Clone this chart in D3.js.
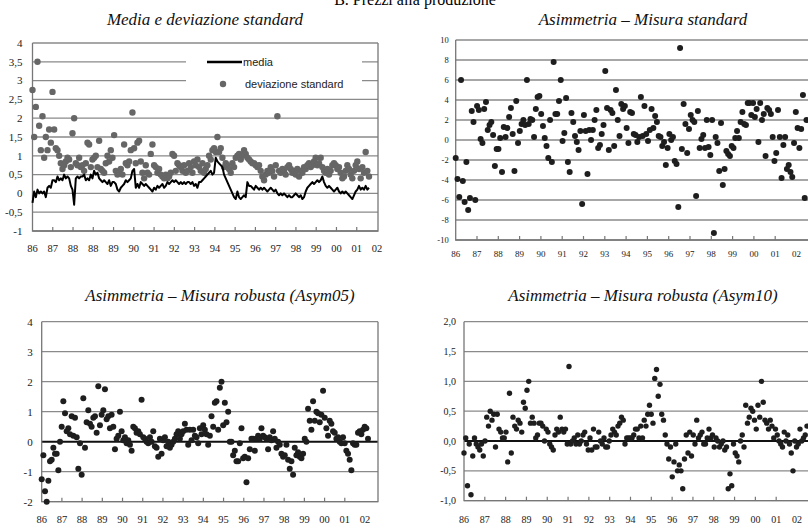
<!DOCTYPE html>
<html>
<head>
<meta charset="utf-8">
<script src="https://cdn.jsdelivr.net/npm/d3@7"></script>
<style>
body { margin: 0; background: #fff; }
svg { display: block; }
</style>
</head>
<body>
<svg id="chart" width="808" height="529"></svg>
<script>
// tick labels
const labelsMedia = ['86','87','88','88','89','90','91','92','93','94','95','96','97','98','99','00','01','02'];
const labelsYears = ['86','87','88','89','90','91','92','93','94','95','96','97','98','99','00','01','02'];
const ticksMedia = [-1, -0.5, 0, 0.5, 1, 1.5, 2, 2.5, 3, 3.5, 4];
const ticksStd = [-10, -8, -6, -4, -2, 0, 2, 4, 6, 8, 10];
const ticks05 = [-2, -1, 0, 1, 2, 3, 4];
const ticks10 = [-1, -0.5, 0, 0.5, 1, 1.5, 2];

// monthly series
const media = [
  -0.25,0.05,-0.1,0.1,0,0.05,0,0.05,-0.1,0.15,
  0.2,0.15,0.35,0.35,0.3,0.45,0.35,0.4,0.35,0.5,
  0.4,0.45,0.4,0.2,0.1,-0.3,0.4,0.45,0.4,0.45,
  0.45,0.5,0.35,0.4,0.35,0.5,0.4,0.6,0.5,0.55,
  0.4,0.35,0.3,0.35,0.3,0.25,0.35,0.2,0.3,0.3,
  0.25,0.1,0.05,0.15,0.2,0.25,0.35,0.3,0.35,0.4,
  0.6,0.65,0.15,0.25,0.15,0.3,0.25,0.2,0.25,0.2,
  0.15,0.1,0.05,0.15,0.1,0.2,0.15,0.2,0.25,0.15,
  0.2,0.3,0.25,0.3,0.35,0.3,0.35,0.3,0.25,
  0.3,0.25,0.3,0.25,0.3,0.3,0.25,0.3,0.2,0.25,
  0.15,0.3,0.3,0.35,0.4,0.45,0.5,0.55,0.6,0.5,
  0.55,0.95,0.85,0.8,0.75,0.7,0.5,0.4,0.3,0.2,
  0.1,0,-0.1,-0.15,0.05,-0.1,-0.15,-0.1,-0.05,-0.1,
  0.3,0.2,0.2,0.15,0.1,0.2,0.15,0.1,0.15,0.1,
  0.15,0.1,0.05,0.1,0.15,0.1,0.05,0.1,0,-0.05,
  0,-0.05,0,-0.05,-0.1,-0.05,-0.1,-0.1,-0.05,0,
  -0.05,-0.1,-0.05,-0.15,-0.1,0.05,0.15,0.2,0.25,0.3,
  0.25,0.3,0.35,0.3,0.35,0.45,0.3,0.2,0.15,0.2,
  0.15,0.1,0.05,0.1,0.15,0.05,0,0.05,0,0.05,
  0,-0.05,-0.1,-0.15,-0.05,0.05,0.1,0.2,0.1,0.15,
  0.1,0.2,0.1,0.15
];
const devStd = [
  2.75,1.5,2.3,3.5,1.8,1.15,2.05,0.95,1.5,1.15,
  1.7,1.35,2.7,1.7,1.2,1.15,1.0,0.8,0.65,0.75,
  0.85,0.95,0.9,0.7,1.6,2.0,0.8,0.75,0.95,0.7,
  0.75,0.6,0.8,1.35,1.3,0.7,0.9,0.95,1.0,0.7,
  1.4,0.65,0.6,0.55,0.8,1.0,0.85,1.15,0.95,1.55,
  0.6,0.5,0.55,0.65,0.5,1.3,0.8,0.75,0.85,1.15,
  2.15,1.2,0.8,1.35,1.4,0.85,0.55,0.4,0.75,0.55,
  0.5,1.05,1.3,0.75,0.7,0.55,0.65,0.5,0.45,0.4,
  0.5,0.4,0.45,0.55,1.05,1.0,0.6,0.8,0.75,
  0.7,0.6,0.75,0.55,0.6,0.8,0.7,0.55,0.85,0.75,
  0.9,0.7,0.6,0.8,0.55,0.65,0.75,1.0,0.9,1.15,
  1.2,1.1,1.5,1.1,1.2,0.95,0.7,0.8,0.75,0.65,
  0.55,0.8,0.7,0.95,1.0,1.05,0.9,1.0,1.15,1.05,
  0.95,0.9,0.85,0.8,0.8,0.75,0.7,0.75,0.6,0.45,
  0.35,0.5,0.6,0.55,0.7,0.6,0.45,0.75,2.05,0.6,
  0.55,0.65,0.6,0.5,0.7,0.75,0.65,0.55,0.6,0.5,
  0.65,0.45,0.6,0.55,0.7,0.65,0.75,0.8,0.7,0.75,
  0.85,0.95,0.75,0.8,0.95,0.7,0.6,0.55,0.65,0.5,
  0.6,0.75,0.8,0.75,0.65,0.7,0.55,0.4,0.45,0.6,
  0.75,0.65,0.5,0.4,0.6,0.75,0.85,0.65,0.4,0.7,
  0.55,1.1,0.6,0.45
];
const asymStd = [
  -1.8,-3.9,-5.7,6.0,-4.1,-6.2,-2.2,-7.0,-5.8,2.9,
  1.8,-6.0,3.4,3.0,0.1,-0.3,3.1,3.8,1.0,1.5,
  1.8,0.5,-2.6,-0.9,-0.9,0.2,-3.2,1.3,0.3,1.2,
  2.3,3.2,0.6,-3.1,3.9,-0.3,0.9,1.6,2.0,1.5,
  6.0,1.6,2.1,2.0,0.3,3.1,4.3,4.4,2.6,1.4,
  0.2,-0.6,-1.8,2.0,-2.2,7.8,2.6,2.6,3.9,6.0,
  -0.1,0.7,4.2,-2.2,-3.2,2.7,1.8,0.4,-0.2,-1.0,
  0.9,-6.4,2.5,0.9,-3.4,1.0,0.0,1.0,2.0,3.0,
  -0.8,-0.5,0.6,1.5,6.9,3.2,-1.0,3.0,2.7,-0.6,
  5.0,2.0,0.4,3.6,3.1,3.4,1.2,-0.3,2.8,2.7,
  0.6,0.5,-0.2,0.3,4.3,0.4,3.4,0.6,-0.1,1.0,
  3.1,1.2,2.4,1.8,0.4,0.3,-0.6,-0.2,-2.5,-0.8,
  0.6,0.0,0.3,-2.1,-2.4,-6.7,9.2,-0.9,3.6,1.6,
  -1.3,1.1,2.5,2.0,1.8,-5.6,2.9,-0.8,0.1,0.5,
  -0.8,2.0,-0.7,-1.5,2.0,-9.3,0.3,-0.3,-3.1,1.7,
  -4.5,-2.9,-1.1,-1.4,-1.6,-0.6,-0.8,0.2,0.9,0.2,
  1.8,2.8,1.6,1.5,3.7,3.7,2.5,3.7,2.3,3.1,
  -0.2,3.7,2.0,2.6,-1.6,3.2,3.0,2.6,0.3,-2.1,
  -1.3,3.0,0.3,-3.8,-0.5,0.3,-2.9,-2.5,-3.2,-3.7,
  -0.3,2.8,1.2,-0.8,1.1,4.5,-5.8,2.0
];
const asym05 = [
  -1.25,-0.45,-1.65,-2.0,-1.3,-0.65,-0.6,-0.2,-0.4,-0.4,
  -0.95,0.0,0.5,1.35,0.95,0.35,0.45,0.25,0.85,0.2,
  0.8,0.15,-0.9,-0.05,-1.1,1.45,-0.2,0.65,1.05,0.6,
  0.5,0.8,0.85,0.3,1.85,0.55,0.9,1.05,1.75,0.75,
  0.85,0.45,0.9,0.5,-0.25,0.1,0.2,1.0,0.35,0.05,
  0.15,-0.05,0.05,-0.1,-0.3,0.5,0.45,0.3,0.35,0.25,
  1.4,0.15,0.1,0.0,-0.05,0.15,0.0,0.35,-0.15,-0.2,
  -0.5,0.1,-0.4,0.05,0.15,-0.15,0.0,-0.2,-0.1,0.0,
  0.1,0.25,0.35,0.1,0.25,0.35,0.6,0.4,-0.1,0.4,
  0.05,0.4,0.2,0.15,-0.05,0.45,0.25,0.55,0.4,0.25,
  -0.1,0.2,0.85,0.5,1.3,1.35,0.4,1.8,2.0,0.55,
  1.3,0.65,1.0,0.0,0.0,-0.45,-0.3,-0.65,-0.65,-0.05,
  0.45,-0.55,-0.5,-1.35,-0.55,-0.25,0.1,0.1,-0.3,0.1,
  0.2,0.1,0.45,0.2,0.15,0.1,-0.25,0.15,0.05,0.35,
  0.1,-0.2,0.0,-0.1,-0.4,-0.5,-0.45,-0.1,-0.6,-0.9,
  -0.65,-1.1,-0.2,-0.45,-0.35,-0.5,-0.55,-0.4,0.1,0.0,
  1.1,0.7,0.4,1.35,0.7,1.0,0.95,0.65,0.9,1.7,
  0.8,0.45,0.2,0.7,0.6,0.35,0.3,0.1,0.15,0.0,
  -0.05,0.15,-0.05,-0.3,-0.4,-0.6,-0.95,-0.05,-0.1,-0.1,
  0.3,0.35,0.25,0.4,0.5,0.45,0.1
];
const asym10 = [
  -0.2,0.05,-0.75,-0.05,-0.9,-0.25,0.05,-0.05,-0.1,-0.15,
  -0.05,-0.25,0.0,0.4,0.25,0.5,0.35,0.45,-0.1,0.45,
  0.2,0.15,0.05,0.05,0.15,-0.35,0.8,-0.2,0.4,0.25,
  0.2,0.35,0.3,0.15,0.65,0.55,0.85,1.0,0.3,0.4,
  0.3,0.05,0.1,0.3,0.3,0.25,0.0,0.2,0.15,-0.05,
  -0.1,-0.15,0.1,0.2,0.15,0.4,0.2,0.15,0.2,-0.05,
  1.25,-0.05,0.0,0.05,-0.05,0.1,-0.05,0.0,0.1,0.15,
  -0.05,-0.15,0.05,-0.15,0.2,-0.1,-0.1,0.15,0.0,-0.05,
  0.05,-0.1,-0.1,0.0,0.1,0.2,0.15,0.1,0.25,0.3,
  0.4,0.35,-0.05,0.05,0.05,0.05,0.05,0.1,0.2,0.2,
  0.05,0.25,0.05,0.35,0.25,0.45,0.6,0.45,0.3,1.05,
  1.2,0.75,0.95,0.45,0.35,0.1,-0.05,-0.3,-0.1,-0.6,
  -0.35,-0.05,-0.5,-0.4,-0.5,-0.8,-0.3,0.1,-0.2,0.15,
  -0.25,0.1,-0.05,0.35,0.05,0.1,0.15,-0.05,-0.05,0.05,
  0.2,0.05,0.1,-0.1,0.05,0.0,-0.1,-0.05,0.0,-0.15,
  -0.1,-0.8,-0.55,-0.75,-0.05,-0.2,-0.25,-0.35,0.0,0.1,
  -0.1,0.6,0.3,0.4,0.55,0.5,0.35,0.2,0.6,0.4,
  1.0,0.65,0.35,0.3,0.2,0.35,0.25,0.05,0.2,0.1,
  0.0,-0.05,-0.1,0.15,0.0,0.1,-0.05,-0.2,-0.5,0.0,
  -0.1,-0.05,0.2,0.0,0.05,0.1,0.25
];

const svg = d3.select('#chart');
const serif = '"Liberation Serif", "DejaVu Serif", serif';
const sans = '"Liberation Sans", Arial, sans-serif';
const itLocale = d3.formatLocale({decimal: ',', thousands: '.', grouping: [3], currency: ['', ''], minus: '-'});
const fmtShort = itLocale.format('~g');
const fmtOne = itLocale.format('.1f');
const fmtInt = itLocale.format('d');

// page heading, cut by the top edge as in the scan
svg.append('text')
    .attr('x', 415).attr('y', 5)
    .attr('text-anchor', 'middle')
    .style('font-family', serif)
    .style('font-size', '16px')
    .text('B. Prezzi alla produzione');

function drawPanel(cfg) {
    const g = svg.append('g');
    const y = d3.scaleLinear().domain(cfg.yDomain).range([cfg.bottom, cfg.top]);
    const xl = d3.scaleLinear().domain([0, cfg.labels.length - 1]).range([cfg.left, cfg.labelEnd]);

    g.append('text')
        .attr('x', cfg.titleX).attr('y', cfg.titleY)
        .attr('text-anchor', 'middle')
        .style('font-family', serif)
        .style('font-style', 'italic')
        .style('font-size', '17px')
        .attr('fill', '#111')
        .text(cfg.title);

    g.selectAll('line.grid')
        .data(cfg.yTicks)
        .join('line')
        .attr('class', 'grid')
        .attr('x1', cfg.left).attr('x2', cfg.right)
        .attr('y1', d => y(d)).attr('y2', d => y(d))
        .attr('stroke', d => (cfg.boldZero && d === 0) ? '#111' : '#8a8a8a')
        .attr('stroke-width', d => (cfg.boldZero && d === 0) ? 2 : 1.3);

    // frame: left, bottom, right
    g.append('path')
        .attr('d', `M${cfg.left},${cfg.top}V${cfg.bottom}H${cfg.right}V${cfg.top}`)
        .attr('fill', 'none')
        .attr('stroke', '#777')
        .attr('stroke-width', 1.3);

    // small ticks on the x axis
    g.selectAll('line.xt')
        .data(cfg.labels.slice(1, -1))
        .join('line')
        .attr('class', 'xt')
        .attr('x1', (d, i) => xl(i + 1)).attr('x2', (d, i) => xl(i + 1))
        .attr('y1', cfg.bottom).attr('y2', cfg.bottom - 4)
        .attr('stroke', '#777')
        .attr('stroke-width', 1.2);

    g.selectAll('text.yl')
        .data(cfg.yTicks)
        .join('text')
        .attr('class', 'yl')
        .attr('x', cfg.left - cfg.yLabelGap)
        .attr('y', d => y(d))
        .attr('dy', '0.35em')
        .attr('text-anchor', 'end')
        .style('font-family', serif)
        .style('font-size', cfg.yFont + 'px')
        .attr('fill', '#222')
        .text(cfg.fmt);

    g.selectAll('text.xl')
        .data(cfg.labels)
        .join('text')
        .attr('class', 'xl')
        .attr('x', (d, i) => xl(i))
        .attr('y', cfg.xLabelY)
        .attr('text-anchor', 'middle')
        .style('font-family', serif)
        .style('font-size', cfg.xFont + 'px')
        .attr('fill', '#222')
        .text(d => d);

    if (cfg.legend) cfg.legend(g);

    cfg.series.forEach(s => {
        const x = d3.scaleLinear().domain([0, s.values.length - 1]).range([cfg.left, cfg.dataEnd]);
        if (s.type === 'dot') {
            g.append('g').selectAll('circle')
                .data(s.values)
                .join('circle')
                .attr('cx', (d, i) => x(i))
                .attr('cy', d => y(d))
                .attr('r', s.r)
                .attr('fill', s.color);
        } else {
            const line = d3.line().x((d, i) => x(i)).y(d => y(d));
            g.append('path')
                .datum(s.values)
                .attr('d', line)
                .attr('fill', 'none')
                .attr('stroke', s.color)
                .attr('stroke-width', 2)
                .attr('stroke-linejoin', 'round');
        }
    });
}

// Panel 1: media e deviazione standard
drawPanel({
    title: 'Media e deviazione standard', titleX: 205, titleY: 25,
    left: 32.5, right: 378, top: 43, bottom: 231, labelEnd: 377, dataEnd: 369,
    yDomain: [-1, 4], yTicks: ticksMedia, fmt: fmtShort, yFont: 11, yLabelGap: 10,
    labels: labelsMedia, xFont: 10.5, xLabelY: 252,
    series: [
        {type: 'dot', values: devStd, color: '#666', r: 3.2},
        {type: 'line', values: media, color: '#000'}
    ],
    legend: g => {
        g.append('rect').attr('x', 186).attr('y', 52).attr('width', 176).attr('height', 40).attr('fill', '#fff');
        g.append('line').attr('x1', 207).attr('x2', 242).attr('y1', 62).attr('y2', 62)
            .attr('stroke', '#000').attr('stroke-width', 2.5);
        g.append('text').attr('x', 243).attr('y', 62).attr('dy', '0.35em')
            .style('font-family', sans).style('font-size', '11px').attr('fill', '#222').text('media');
        g.append('circle').attr('cx', 223).attr('cy', 84).attr('r', 3.2).attr('fill', '#666');
        g.append('text').attr('x', 245).attr('y', 84).attr('dy', '0.35em')
            .style('font-family', sans).style('font-size', '11px').attr('fill', '#222').text('deviazione standard');
    }
});

// Panel 2: asimmetria, misura standard
drawPanel({
    title: 'Asimmetria – Misura standard', titleX: 643, titleY: 25,
    left: 455.7, right: 816, top: 40, bottom: 240, labelEnd: 796.5, dataEnd: 806.5,
    yDomain: [-10, 10], yTicks: ticksStd, fmt: fmtInt, yFont: 8.5, yLabelGap: 7,
    labels: labelsYears, xFont: 9, xLabelY: 257,
    series: [{type: 'dot', values: asymStd, color: '#1e1e1e', r: 3}]
});

// Panel 3: Asym05
drawPanel({
    title: 'Asimmetria – Misura robusta (Asym05)', titleX: 220, titleY: 301,
    left: 41.7, right: 378, top: 321.7, bottom: 501.7, labelEnd: 365, dataEnd: 368,
    yDomain: [-2, 4], yTicks: ticks05, fmt: fmtInt, yFont: 11, yLabelGap: 9,
    labels: labelsYears, xFont: 10.5, xLabelY: 523, boldZero: true,
    series: [{type: 'dot', values: asym05, color: '#1e1e1e', r: 3}]
});

// Panel 4: Asym10
drawPanel({
    title: 'Asimmetria – Misura robusta (Asym10)', titleX: 643, titleY: 301,
    left: 464, right: 816, top: 321.7, bottom: 500.7, labelEnd: 797, dataEnd: 807,
    yDomain: [-1, 2], yTicks: ticks10, fmt: fmtOne, yFont: 10, yLabelGap: 8,
    labels: labelsYears, xFont: 10, xLabelY: 523, boldZero: true,
    series: [{type: 'dot', values: asym10, color: '#1e1e1e', r: 2.7}]
});
</script>
</body>
</html>
